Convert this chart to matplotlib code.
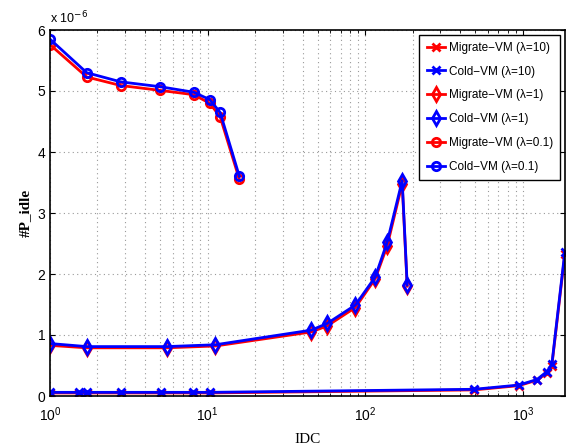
import numpy as np
import matplotlib
matplotlib.use('Agg')
import matplotlib.pyplot as plt

plt.rcParams['font.family'] = ['Liberation Sans', 'DejaVu Sans']

# lambda = 10 (x markers)
idc_10 = [1, 1.53, 1.71, 2.84, 5.04, 8.04, 10.3, 490, 944, 1228, 1420, 1527, 1845]
mig_10 = [0.05, 0.05, 0.05, 0.05, 0.05, 0.05, 0.05, 0.10, 0.17, 0.26, 0.38, 0.50, 2.32]
cold_10 = [0.06, 0.06, 0.06, 0.06, 0.06, 0.06, 0.06, 0.11, 0.18, 0.27, 0.40, 0.52, 2.36]

# lambda = 1 (diamonds)
idc_1 = [1, 1.71, 5.5, 11.2, 45.5, 57.4, 86.5, 115.6, 137.7, 171.5, 184.5]
mig_1 = [0.83, 0.79, 0.79, 0.82, 1.05, 1.15, 1.45, 1.92, 2.46, 3.48, 1.80]
cold_1 = [0.86, 0.81, 0.81, 0.84, 1.08, 1.19, 1.49, 1.95, 2.52, 3.53, 1.82]

# lambda = 0.1 (circles)
idc_01 = [1, 1.71, 2.81, 5.0, 8.15, 10.3, 12.0, 15.9]
mig_01 = [5.76, 5.23, 5.09, 5.01, 4.94, 4.80, 4.58, 3.55]
cold_01 = [5.85, 5.30, 5.15, 5.07, 4.98, 4.86, 4.65, 3.60]

fig = plt.figure(figsize=(5.69, 4.47), dpi=100)
ax = fig.add_axes([50/569, 1-396/447, 515/569, 366/447])

lw = 2
ax.plot(idc_10, mig_10, 'r-x', lw=lw, ms=6, mew=2, label='Migrate\u2212VM (\u03bb=10)')
ax.plot(idc_10, cold_10, 'b-x', lw=lw, ms=6, mew=2, label='Cold\u2212VM (\u03bb=10)')
ax.plot(idc_1, mig_1, 'r-d', lw=lw, ms=7, mew=2, mfc='none', label='Migrate\u2212VM (\u03bb=1)')
ax.plot(idc_1, cold_1, 'b-d', lw=lw, ms=7, mew=2, mfc='none', label='Cold\u2212VM (\u03bb=1)')
ax.plot(idc_01, mig_01, 'r-o', lw=lw, ms=6, mew=2, mfc='none', label='Migrate\u2212VM (\u03bb=0.1)')
ax.plot(idc_01, cold_01, 'b-o', lw=lw, ms=6, mew=2, mfc='none', label='Cold\u2212VM (\u03bb=0.1)')

ax.set_xscale('log')
ax.set_xlim(1, 1850)
ax.set_ylim(0, 6)
ax.set_yticks(range(7))
ax.grid(True, which='major', axis='both', color='#999999', ls=(0, (1, 3)), lw=0.8)
ax.grid(True, which='minor', axis='x', color='#999999', ls=(0, (1, 3)), lw=0.8)
ax.tick_params(which='both', direction='in', top=True, right=True, labelsize=10)
ax.tick_params(axis='x', pad=7)
for s in ax.spines.values():
    s.set_linewidth(1.2)

ax.text(0, 1.01, 'x 10$^{-6}$', transform=ax.transAxes, fontsize=9, ha='left', va='bottom')
ax.set_ylabel('#P_idle', family='Liberation Serif', fontweight='bold', fontsize=11)
ax.set_xlabel('IDC', family='Liberation Serif', fontsize=11, labelpad=6)

leg = ax.legend(loc='upper right', fontsize=8.5, fancybox=False, edgecolor='black',
                framealpha=1, handlelength=1.6, handletextpad=0.3, borderpad=0.6,
                labelspacing=1.0, borderaxespad=0.4)
leg.get_frame().set_linewidth(1.0)

fig.savefig('out.png', dpi=100)
